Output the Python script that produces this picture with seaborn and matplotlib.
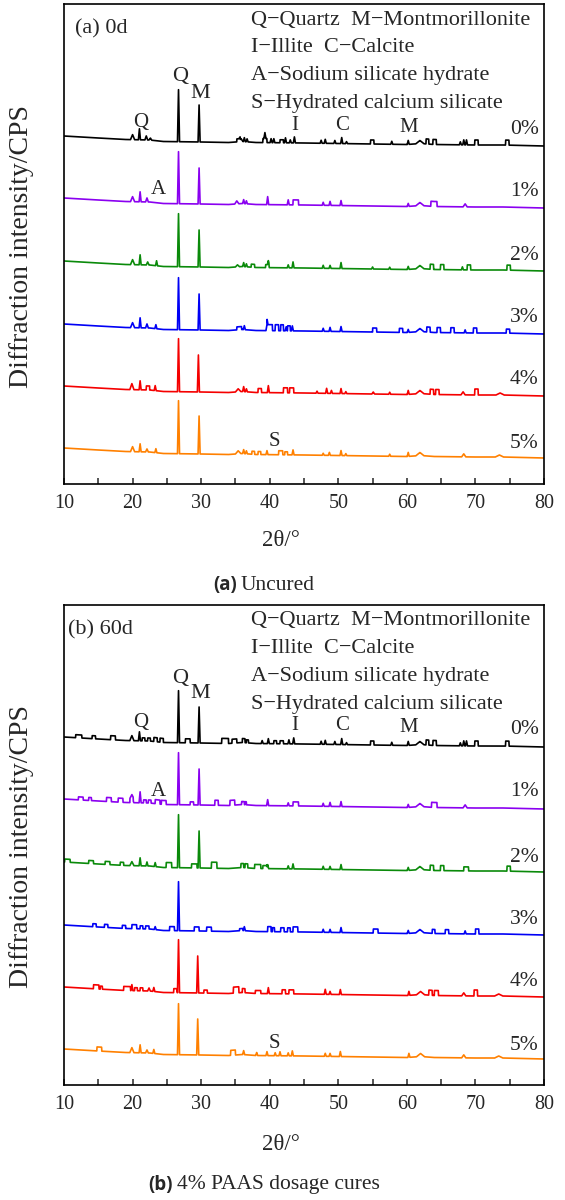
import numpy as np
import pandas as pd
import matplotlib
matplotlib.use("Agg")
import matplotlib.pyplot as plt
import seaborn as sns

# ---------------- data ----------------
DOSAGES = ["0%", "1%", "2%", "3%", "4%", "5%"]
COLORS = ["#000000", "#8A00F0", "#0A8A0A", "#0000F5", "#F50000", "#FF8000"]

# amorphous background shared by all patterns (2θ, relative intensity)
BG_THETA = [10, 15, 19, 22.5, 24.5, 30, 34, 36, 38, 45, 55, 60, 62, 64, 70, 74, 80]
BG_LEVEL = [10, 8, 6.5, 6, 4.5, 4, 3.5, 4.5, 3.5, 3, 2, 1.5, 2.5, 1.5, 1, 1, 0]

# peaks: (2θ, height, half-width); steps: (start 2θ, end 2θ, height)
A0_PEAKS = [(20.0, 5, 0.3), (21.0, 11, 0.15), (22.0, 4, 0.2), (22.6, 2, 0.2), (26.7, 52, 0.15),
            (29.7, 37, 0.15), (35.8, 3, 0.3), (36.3, 4, 0.15), (36.7, 3, 0.15), (39.3, 6, 0.15),
            (40.2, 4, 0.15), (40.6, 4, 0.15), (42.3, 5, 0.15), (43.0, 3, 0.15), (43.6, 6, 0.15),
            (47.5, 3, 0.15), (48.1, 4, 0.15), (49.5, 3, 0.15), (50.5, 6, 0.15), (51.2, 2, 0.15),
            (57.8, 3, 0.15), (60.2, 4, 0.15), (61.9, 3, 0.6), (67.8, 3, 0.15), (68.3, 5, 0.15),
            (68.7, 5, 0.15)]
A0_STEPS = [(35.2, 35.7, 3), (39.0, 39.6, 4), (41.5, 42.0, 3), (54.7, 55.2, 4), (62.8, 63.2, 5),
            (63.8, 64.3, 5), (69.9, 70.4, 5), (74.4, 74.9, 5)]

A1_PEAKS = [(20.0, 5, 0.3), (21.1, 10, 0.15), (22.1, 4, 0.2), (26.7, 52, 0.15), (29.7, 36, 0.15),
            (35.2, 3, 0.3), (36.2, 4, 0.15), (36.6, 3, 0.15), (39.7, 8, 0.15), (42.7, 5, 0.15),
            (47.8, 3, 0.15), (48.8, 4, 0.15), (50.4, 5, 0.15), (60.2, 3, 0.15), (61.9, 3, 0.6),
            (68.5, 3, 0.3)]
A1_STEPS = [(43.4, 44.2, 5), (63.5, 64.4, 5)]

A2_PEAKS = [(20.0, 5, 0.3), (21.1, 10, 0.15), (22.2, 3, 0.2), (23.5, 5, 0.15), (26.7, 53, 0.15),
            (29.7, 37, 0.15), (35.3, 2, 0.3), (36.2, 4, 0.15), (36.6, 3, 0.15), (39.8, 4, 0.15),
            (42.7, 3, 0.15), (43.4, 6, 0.15), (47.8, 3, 0.15), (48.8, 3, 0.15), (50.4, 6, 0.15),
            (55.0, 2, 0.15), (57.5, 2, 0.15), (60.2, 3, 0.15), (61.9, 3, 0.6), (68.1, 3, 0.15)]
A2_STEPS = [(37.3, 37.8, 3), (39.4, 39.9, 3), (63.4, 63.9, 5), (64.9, 65.4, 5), (68.8, 69.3, 5),
            (74.6, 75.1, 5)]

A3_PEAKS = [(20.0, 5, 0.3), (21.1, 10, 0.15), (22.1, 4, 0.2), (23.4, 4, 0.15), (26.7, 52, 0.15),
            (29.7, 36, 0.15), (36.3, 4, 0.15), (39.6, 6, 0.15), (42.4, 4, 0.15), (43.3, 5, 0.15),
            (47.8, 3, 0.15), (48.8, 4, 0.15), (50.4, 5, 0.15), (60.2, 3, 0.15), (61.9, 3, 0.6),
            (68.5, 3, 0.15)]
A3_STEPS = [(35.2, 35.9, 3), (39.6, 40.4, 6), (40.8, 41.3, 6), (41.6, 42.0, 6), (42.6, 43.0, 5),
            (55.0, 55.6, 4), (58.9, 59.4, 4), (62.9, 63.4, 5), (64.4, 64.9, 5), (66.4, 66.9, 5),
            (69.7, 70.2, 5), (74.5, 75.0, 4)]

A4_PEAKS = [(19.9, 6, 0.3), (21.1, 9, 0.15), (23.3, 5, 0.15), (26.7, 53, 0.15), (29.6, 37, 0.15),
            (35.4, 3, 0.4), (36.2, 5, 0.15), (36.6, 3, 0.15), (39.8, 7, 0.15), (46.9, 2, 0.15),
            (48.3, 5, 0.15), (49.0, 3, 0.15), (50.4, 5, 0.15), (51.1, 2, 0.15), (55.1, 2, 0.2),
            (57.5, 2, 0.15), (60.2, 4, 0.15), (61.9, 3, 0.6), (68.2, 3, 0.3), (73.6, 2, 0.6)]
A4_STEPS = [(22.0, 22.5, 4), (38.3, 38.8, 4), (42.0, 42.6, 5), (42.9, 43.5, 5), (63.4, 63.9, 5),
            (64.2, 64.7, 5), (69.9, 70.4, 6)]

A5_PEAKS = [(20.0, 5, 0.3), (21.1, 8, 0.15), (22.1, 3, 0.2), (23.4, 4, 0.15), (26.7, 53, 0.15),
            (29.7, 38, 0.15), (35.4, 3, 0.4), (36.2, 4, 0.15), (36.6, 3, 0.15), (39.6, 4, 0.15),
            (43.4, 5, 0.15), (47.8, 2, 0.15), (48.7, 3, 0.15), (50.4, 5, 0.15), (51.1, 2, 0.15),
            (57.5, 2, 0.15), (60.2, 4, 0.15), (61.9, 3, 0.6), (68.3, 3, 0.3), (73.5, 2, 0.6)]
A5_STEPS = [(37.4, 37.8, 3), (38.3, 38.7, 3), (41.3, 41.9, 4), (42.2, 42.6, 3)]

B0_PEAKS = [(19.9, 5, 0.3), (21.0, 9, 0.15), (26.7, 52, 0.15), (29.7, 36, 0.15), (38.9, 3, 0.15),
            (39.8, 5, 0.15), (42.8, 4, 0.15), (43.5, 6, 0.15), (47.5, 3, 0.15), (48.1, 4, 0.15),
            (49.5, 3, 0.15), (50.5, 6, 0.15), (51.2, 2, 0.15), (57.8, 3, 0.15), (60.2, 4, 0.15),
            (61.9, 3, 0.6), (67.8, 3, 0.15), (68.3, 5, 0.15), (68.7, 5, 0.15)]
B0_STEPS = [(11.7, 12.6, 3), (14.1, 14.6, 3), (16.8, 17.5, 4), (21.4, 21.8, 3), (22.2, 22.6, 3),
            (23.1, 23.6, 4), (24.0, 24.5, 4), (27.7, 28.4, 4), (33.0, 34.0, 5), (34.5, 35.2, 4),
            (36.0, 36.4, 4), (36.6, 36.9, 3), (40.6, 41.0, 3), (41.5, 42.0, 3), (54.7, 55.2, 4),
            (62.8, 63.2, 5), (63.8, 64.3, 5), (69.9, 70.4, 5), (74.4, 74.9, 5)]

B1_PEAKS = [(19.9, 4, 0.3), (21.1, 11, 0.15), (26.7, 52, 0.15), (29.7, 36, 0.15), (39.7, 6, 0.15),
            (42.7, 3, 0.15), (47.8, 3, 0.15), (48.8, 4, 0.15), (50.4, 5, 0.15), (60.2, 3, 0.15),
            (61.9, 3, 0.6), (68.5, 3, 0.3)]
B1_STEPS = [(12.1, 12.8, 3), (13.6, 14.0, 3), (16.2, 16.9, 4), (17.9, 18.6, 4), (19.6, 20.1, 4),
            (21.6, 22.0, 3), (22.3, 22.7, 3), (23.3, 24.0, 4), (24.2, 24.9, 4), (28.4, 28.9, 3),
            (32.0, 32.5, 5), (34.2, 34.9, 5), (35.9, 36.3, 3), (36.4, 36.6, 3), (43.4, 44.2, 4),
            (63.6, 64.4, 5)]

B2_PEAKS = [(19.9, 4, 0.3), (21.1, 8, 0.15), (22.1, 4, 0.15), (23.3, 4, 0.15), (26.7, 53, 0.15),
            (29.7, 37, 0.15), (39.7, 4, 0.15), (42.7, 3, 0.15), (43.4, 5, 0.15), (47.8, 3, 0.15),
            (48.8, 3, 0.15), (50.4, 5, 0.15), (60.2, 3, 0.15), (61.9, 3, 0.6)]
B2_STEPS = [(10.1, 10.9, 3), (13.6, 14.3, 3), (16.0, 16.7, 3), (18.2, 18.7, 3), (24.9, 25.7, 5),
            (28.6, 29.4, 4), (31.5, 32.3, 6), (35.8, 36.2, 4), (36.4, 36.8, 4), (37.8, 38.7, 4),
            (39.0, 39.6, 3), (63.4, 63.9, 5), (64.9, 65.4, 5), (68.3, 69.0, 4), (74.6, 75.1, 5)]

B3_PEAKS = [(23.3, 3, 0.15), (26.7, 49, 0.15), (36.3, 4, 0.15), (47.8, 3, 0.15), (48.8, 3, 0.15),
            (50.4, 5, 0.15), (60.2, 3, 0.15), (61.9, 3, 0.6), (68.5, 3, 0.15)]
B3_STEPS = [(14.2, 14.7, 3), (15.9, 16.4, 3), (18.5, 19.0, 3), (19.9, 20.6, 4), (21.1, 21.5, 3),
            (21.9, 22.4, 3), (25.4, 26.1, 4), (29.0, 29.7, 4), (30.8, 31.5, 4), (35.6, 36.1, 2),
            (39.7, 40.2, 5), (40.4, 40.7, 4), (41.6, 42.1, 4), (42.6, 43.0, 4), (43.4, 44.1, 5),
            (55.1, 55.8, 4), (63.7, 64.1, 4), (65.6, 66.1, 4), (70.0, 70.5, 5)]

B4_PEAKS = [(19.9, 6, 0.15), (22.4, 3, 0.2), (23.1, 4, 0.15), (26.7, 53, 0.15), (29.5, 37, 0.15),
            (39.8, 6, 0.15), (48.1, 5, 0.15), (48.8, 3, 0.15), (50.3, 5, 0.15), (60.3, 4, 0.15),
            (62.0, 3, 0.6), (68.3, 3, 0.3), (73.4, 2, 0.6)]
B4_STEPS = [(14.3, 15.1, 4), (15.3, 15.6, 3), (18.7, 19.7, 4), (20.3, 20.7, 3), (21.1, 21.5, 3),
            (26.0, 26.5, 4), (30.4, 30.9, 3), (34.7, 35.5, 6), (36.0, 36.4, 4), (37.9, 38.7, 3),
            (41.8, 42.3, 4), (42.8, 43.5, 4), (63.2, 63.7, 5), (64.0, 64.6, 5), (69.8, 70.3, 6)]

B5_PEAKS = [(19.9, 5, 0.3), (21.1, 8, 0.15), (22.1, 3, 0.2), (23.1, 4, 0.15), (26.7, 51, 0.15),
            (29.5, 36, 0.15), (36.2, 4, 0.15), (38.1, 3, 0.15), (39.6, 4, 0.15), (40.8, 3, 0.15),
            (41.5, 4, 0.15), (42.7, 3, 0.15), (43.3, 5, 0.15), (48.1, 3, 0.15), (48.8, 3, 0.15),
            (50.3, 5, 0.15), (60.3, 4, 0.15), (62.0, 3, 0.6), (68.3, 3, 0.3), (73.4, 2, 0.6)]
B5_STEPS = [(14.8, 15.5, 4), (34.3, 35.0, 5)]

PANEL_A = [(A0_PEAKS, A0_STEPS), (A1_PEAKS, A1_STEPS), (A2_PEAKS, A2_STEPS),
           (A3_PEAKS, A3_STEPS), (A4_PEAKS, A4_STEPS), (A5_PEAKS, A5_STEPS)]
PANEL_B = [(B0_PEAKS, B0_STEPS), (B1_PEAKS, B1_STEPS), (B2_PEAKS, B2_STEPS),
           (B3_PEAKS, B3_STEPS), (B4_PEAKS, B4_STEPS), (B5_PEAKS, B5_STEPS)]

LEGEND_LINES = ["Q\u2212Quartz  M\u2212Montmorillonite", "I\u2212Illite  C\u2212Calcite",
                "A\u2212Sodium silicate hydrate", "S\u2212Hydrated calcium silicate"]
X_TICKS = [10, 20, 30, 40, 50, 60, 70, 80]

# ---------------- layout / style ----------------
OFFSETS = [338, 276, 213, 150, 88, 26]       # vertical stacking of the patterns
PCT_Y = [355, 293, 228, 166, 104, 40]
SERIF = ["Liberation Serif", "DejaVu Serif"]

sns.set_style("white")
plt.rcParams["font.family"] = SERIF


def profile(peaks, steps, offset):
    eps = 0.02
    xs = set(BG_THETA)
    for p, h, w in peaks:
        xs |= {p - w, p, p + w}
    for a, b, h in steps:
        xs |= {a - eps, a + eps, b - eps, b + eps}
    xs = np.array(sorted(x for x in xs if 10 <= x <= 80))
    y = np.interp(xs, BG_THETA, BG_LEVEL)
    for p, h, w in peaks:
        y = y + h * np.clip(1 - np.abs(xs - p) / w, 0, None)
    for a, b, h in steps:
        y = y + h * ((xs > a) & (xs < b))
    return xs, y + offset


def build_df(panel):
    frames = []
    for (peaks, steps), dos, off in zip(panel, DOSAGES, OFFSETS):
        x, y = profile(peaks, steps, off)
        frames.append(pd.DataFrame({"theta": x, "intensity": y, "dosage": dos}))
    return pd.concat(frames, ignore_index=True)


W, H = 565, 1200
fig = plt.figure(figsize=(W / 100, H / 100), dpi=100)


def px_axes(left, top, width, height):
    return fig.add_axes([left / W, 1 - (top + height) / H, width / W, height / H])


def draw_panel(ax, panel, tag, tag_x):
    df = build_df(panel)
    sns.lineplot(data=df, x="theta", y="intensity", hue="dosage", hue_order=DOSAGES,
                 palette=COLORS, estimator=None, sort=False, legend=False,
                 linewidth=1.2, ax=ax)
    ax.set_xlim(10, 80)
    ax.set_ylim(0, 480)
    ax.set_yticks([])
    ax.set_xticks(X_TICKS)
    ax.set_xticks([15, 25, 35, 45, 55, 65, 75], minor=True)
    ax.tick_params(axis="x", which="major", direction="in", length=4, width=1.1,
                   labelsize=14.5, pad=7, bottom=True)
    ax.tick_params(axis="x", which="minor", direction="in", length=4, width=1.1, bottom=True)
    for lab in ax.get_xticklabels():
        lab.set_family(SERIF)
    ax.set_xlabel("")
    ax.set_ylabel("")
    for s in ax.spines.values():
        s.set_visible(True)
        s.set_color("black")
        s.set_linewidth(1.2)
    fs = 15
    ax.text(tag_x, 455, tag, fontsize=16, ha="left", va="center")
    for i, line in enumerate(LEGEND_LINES):
        ax.text(37.3, [464, 436.5, 408.5, 380.5][i], line, fontsize=16, ha="left", va="center")
    ax.text(21.2, 362, "Q", fontsize=fs, ha="center", va="center")
    ax.text(26.9, 407, "Q", fontsize=16, ha="center", va="center")
    ax.text(29.8, 391, "M", fontsize=16, ha="center", va="center")
    ax.text(43.7, 359, "I", fontsize=fs, ha="center", va="center")
    ax.text(50.5, 359, "C", fontsize=fs, ha="center", va="center")
    ax.text(60.3, 357, "M", fontsize=fs, ha="center", va="center")
    ax.text(23.7, 294, "A", fontsize=fs, ha="center", va="center")
    ax.text(40.7, 42, "S", fontsize=fs, ha="center", va="center")
    for dos, yy in zip(DOSAGES, PCT_Y):
        ax.text(79.2, yy, dos, fontsize=15.5, ha="right", va="center")


ax_a = px_axes(64, 4, 480, 480)
draw_panel(ax_a, PANEL_A, "(a) 0d", 11.6)
ax_b = px_axes(64, 605, 480, 480)
draw_panel(ax_b, PANEL_B, "(b) 60d", 10.65)

# axis titles and captions
for yc in (247, 847):
    fig.text(22 / W, 1 - yc / H, "Diffraction intensity/CPS", rotation=90, fontsize=20,
             ha="center", va="center")
for yc in (540, 1145):
    fig.text(281 / W, 1 - yc / H, "2\u03b8/\u00b0", fontsize=16.5, ha="center", va="center")

fig.text(237 / W, 1 - 585 / H, "(a)", fontsize=13.5, fontweight="bold",
         family=["Open Sans", "DejaVu Sans"], ha="right", va="center")
fig.text(241 / W, 1 - 585 / H, "Uncured", fontsize=15.5, ha="left", va="center")
fig.text(173 / W, 1 - 1185 / H, "(b)", fontsize=13.5, fontweight="bold",
         family=["Open Sans", "DejaVu Sans"], ha="right", va="center")
fig.text(177 / W, 1 - 1185 / H, "4% PAAS dosage cures", fontsize=15.5, ha="left", va="center")

fig.savefig("out.png", dpi=100, facecolor="white")
